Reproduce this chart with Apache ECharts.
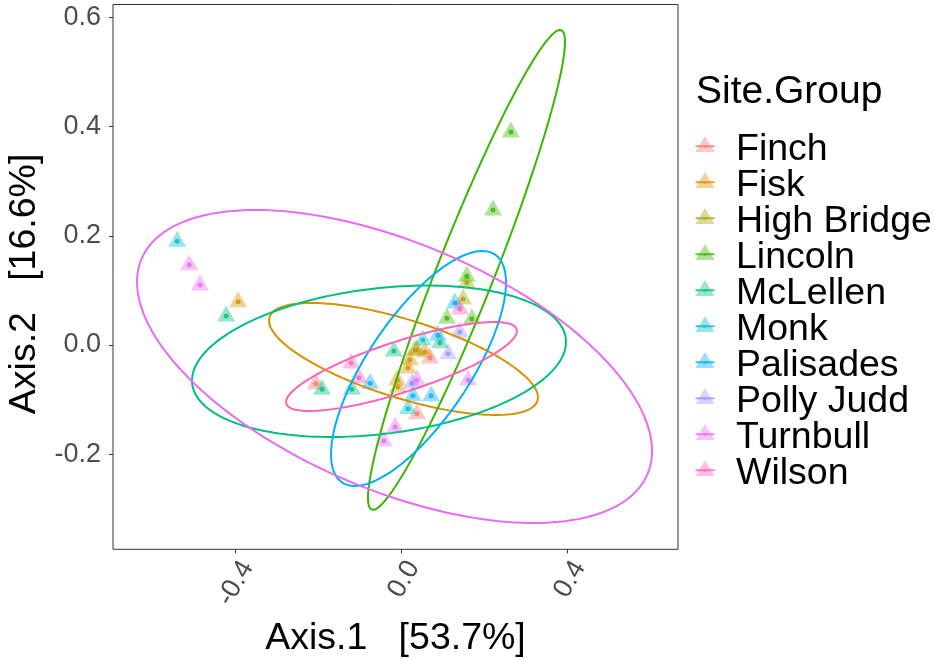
<!DOCTYPE html>
<html>
<head>
<meta charset="utf-8">
<script src="https://cdn.jsdelivr.net/npm/echarts@6/dist/echarts.min.js"></script>
<style>
html,body{margin:0;padding:0;background:#fff;}
#chart{width:934px;height:659px;}
</style>
</head>
<body>
<div id="chart"></div>
<script>
// ---- data (Axis.1, Axis.2) ----
const groups = ['Finch','Fisk','High Bridge','Lincoln','McLellen','Monk','Palisades','Polly Judd','Turnbull','Wilson'];
const colors = ['#F8766D','#D89000','#A3A500','#39B600','#00BF7D','#00BFC4','#00B0F6','#9590FF','#E76BF3','#FF62BC'];

const finch     = [[-0.207,-0.071],[0.068,-0.024],[0.037,-0.126]];
const fisk      = [[-0.394,0.079],[0.020,-0.027],[0.015,-0.042],[0.037,-0.009],[-0.011,-0.064],[-0.009,-0.077],[0.056,-0.013]];
const highBridge= [[0.157,0.114],[0.148,0.084],[0.032,-0.009]];
const lincoln   = [[0.263,0.390],[0.220,0.247],[0.157,0.126],[0.109,0.049],[0.169,0.048]];
const mcLellen  = [[-0.423,0.053],[-0.192,-0.081],[-0.120,-0.081],[-0.019,-0.011],[0.092,0.004]];
const monk      = [[-0.541,0.190],[0.051,0.009],[0.015,-0.117]];
const palisades = [[-0.076,-0.070],[0.128,0.077],[0.087,0.018],[0.027,-0.093],[0.071,-0.093]];
const pollyJudd = [[0.140,0.024],[0.112,-0.016],[0.025,-0.070]];
const turnbull  = [[-0.512,0.147],[-0.486,0.110],[-0.016,-0.150],[-0.043,-0.176],[0.160,-0.064],[0.037,-0.064]];
const wilson    = [[-0.122,-0.033],[-0.103,-0.060],[0.140,0.066]];
const points = [finch, fisk, highBridge, lincoln, mcLellen, monk, palisades, pollyJudd, turnbull, wilson];

// confidence-ellipse shape: centre, half width, half height,
// and (x of topmost point - centre)/half width
const ellipseCx = [null, 0.0043, null, 0.1561, -0.0547, null, 0.0405, null, -0.0173, -0.0005];
const ellipseCy = [null,-0.0256, null, 0.1374, -0.0298, null,-0.0430, null, -0.0394, -0.0394];
const ellipseW  = [null, 0.3241, null, 0.2373,  0.4506, null, 0.2108, null,  0.6205,  0.2783];
const ellipseH  = [null, 0.1026, null, 0.4396,  0.1387, null, 0.2152, null,  0.2866,  0.0815];
const ellipseK  = [null,-0.685,  null, 0.95,    0.255,  null, 0.73,   null, -0.54,    0.80];

const xTicks = [-0.4, 0.0, 0.4];
const yTicks = [-0.2, 0.0, 0.2, 0.4, 0.6];

// ---- chart ----
const FONT = '"Liberation Sans", Arial, sans-serif';
function rgba(hex, a){
  const n = parseInt(hex.slice(1),16);
  return 'rgba(' + ((n>>16)&255) + ',' + ((n>>8)&255) + ',' + (n&255) + ',' + a + ')';
}
function ellipse(i){
  const out = [];
  const phi = Math.acos(ellipseK[i]);
  const N = 200;
  for (let s = 0; s <= N; s++){
    const t = 2*Math.PI*s/N;
    out.push([ellipseCx[i] + ellipseW[i]*Math.cos(t), ellipseCy[i] + ellipseH[i]*Math.cos(t - phi)]);
  }
  return out;
}

const series = [];
groups.forEach((g,i)=>{
  series.push({
    name:g, type:'scatter', data:points[i], symbol:'triangle', symbolSize:[18,16], symbolOffset:[0,-2.5],
    itemStyle:{color:rgba(colors[i],0.5)}, z:2, emphasis:{disabled:true}
  });
});
groups.forEach((g,i)=>{
  series.push({
    name:g, type:'scatter', data:points[i], symbol:'circle', symbolSize:5,
    itemStyle:{color:colors[i]}, z:3, emphasis:{disabled:true}
  });
});
groups.forEach((g,i)=>{
  if (ellipseCx[i] === null) return;
  series.push({
    name:g, type:'line', data:ellipse(i), showSymbol:false, symbol:'none',
    lineStyle:{color:colors[i], width:2}, itemStyle:{color:colors[i]}, z:4, emphasis:{disabled:true}
  });
});

const triIcon = 'path://M0,0h0.01v0.01h-0.01Z M10,0L19.5,16L0.5,16Z M19.99,27.99h0.01v0.01h-0.01Z';
const lineIcon = 'path://M0,0h0.01v0.01h-0.01Z M0.5,9.3h19v2h-19Z M8.6,8.9h2.8v2.8h-2.8Z M19.99,27.99h0.01v0.01h-0.01Z';

const legendBase = {
  orient:'vertical', left:695, top:131, padding:0, itemGap:-2, itemWidth:20, itemHeight:28,
  selectedMode:true
};

const option = {
  animation:false,
  backgroundColor:'#ffffff',
  title:{
    text:'Site.Group', left:696, top:73, padding:0,
    textStyle:{fontFamily:FONT, fontSize:39, fontWeight:'normal', color:'#000', lineHeight:39}
  },
  legend:[
    Object.assign({}, legendBase, {
      data: groups.map((g,i)=>({name:g, icon:triIcon, itemStyle:{color:rgba(colors[i],0.5), borderWidth:0}})),
      textStyle:{fontFamily:FONT, fontSize:37.5, color:'#000', lineHeight:36, padding:[0,0,0,16]}
    }),
    Object.assign({}, legendBase, {
      data: groups.map((g,i)=>({name:g, icon:lineIcon, itemStyle:{color:colors[i], borderWidth:0}})),
      textStyle:{fontFamily:FONT, fontSize:37.5, color:'rgba(0,0,0,0)', lineHeight:36, padding:[0,0,0,16]}
    })
  ],
  grid:{
    left:113, right:256, top:4.5, bottom:109.7, show:true, borderColor:'#333333', borderWidth:1,
    backgroundColor:'#ffffff', containLabel:false, outerBoundsMode:'none'
  },
  xAxis:{
    type:'value', min:-0.6957, max:0.6658,
    name:'Axis.1   [53.7%]', nameLocation:'middle', nameGap:71,
    nameTextStyle:{fontFamily:FONT, fontSize:37.5, color:'#000', lineHeight:37},
    axisLine:{show:false, onZero:false},
    splitLine:{show:false},
    axisTick:{show:true, customValues:xTicks, length:4, lineStyle:{color:'#333333', width:1}},
    axisLabel:{
      customValues:xTicks, rotate:60, margin:7, verticalAlign:'top',
      fontFamily:FONT, fontSize:27, color:'#4D4D4D',
      formatter:(v)=>Number(v).toFixed(1)
    }
  },
  yAxis:{
    type:'value', min:-0.3742, max:0.6236,
    name:'Axis.2   [16.6%]', nameLocation:'middle', nameGap:61, nameRotate:90,
    nameTextStyle:{fontFamily:FONT, fontSize:37.5, color:'#000', lineHeight:37, padding:[0,14,0,0]},
    axisLine:{show:false, onZero:false},
    splitLine:{show:false},
    axisTick:{show:true, customValues:yTicks, length:4, lineStyle:{color:'#333333', width:1}},
    axisLabel:{
      customValues:yTicks, margin:12,
      fontFamily:FONT, fontSize:27, color:'#4D4D4D',
      formatter:(v)=>Number(v).toFixed(1)
    }
  },
  series:series
};

const chart = echarts.init(document.getElementById('chart'), null, {renderer:'canvas'});
chart.setOption(option);
</script>
</body>
</html>
